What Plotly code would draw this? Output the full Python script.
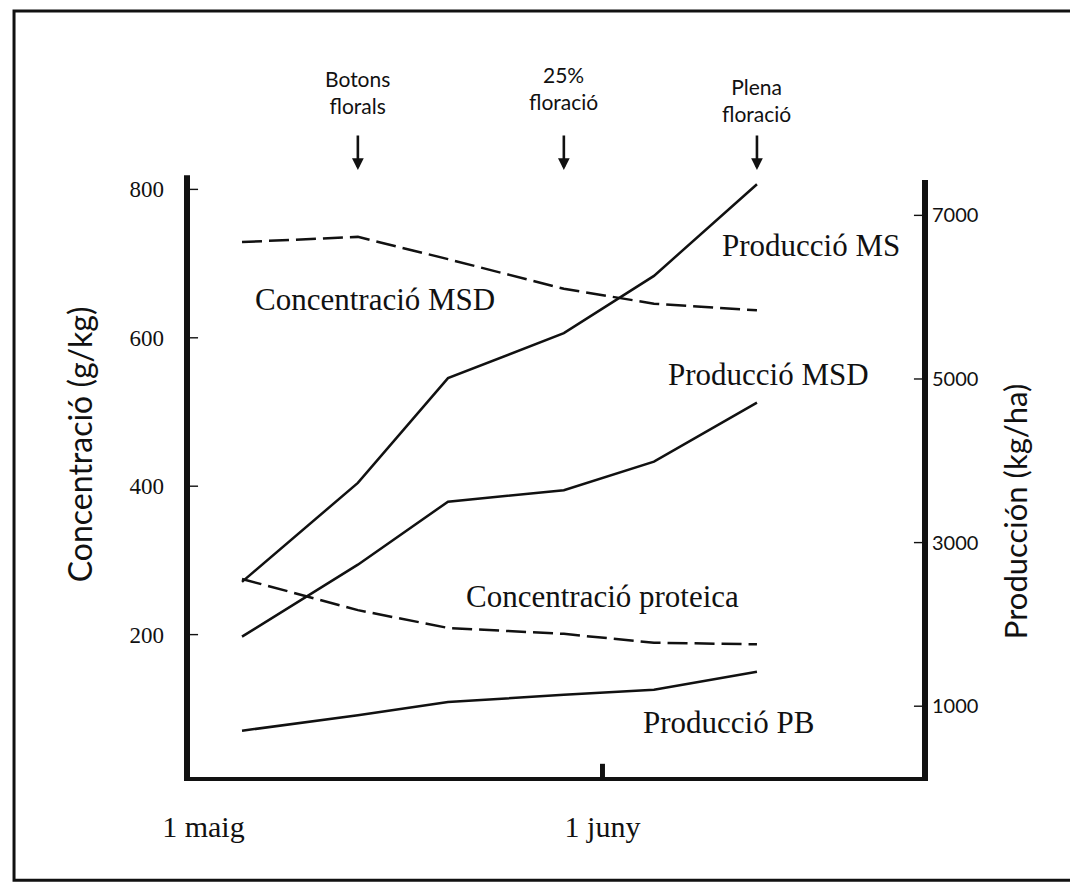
import plotly.graph_objects as go

# ---- data (x = day counted from 1 May; 32 = 1 June) ----
days = [4, 13, 20, 29, 36, 44]
conc_msd = [729, 736, 706, 666, 646, 637]          # g/kg (left axis)
conc_proteica = [275, 233, 209, 201, 189, 187]     # g/kg (left axis)
prod_ms = [2520, 3730, 5010, 5560, 6260, 7380]     # kg/ha (right axis)
prod_msd = [1850, 2730, 3500, 3640, 3990, 4710]    # kg/ha (right axis)
prod_pb = [700, 890, 1050, 1140, 1200, 1420]       # kg/ha (right axis)

x_tickvals = [1, 32]
x_ticktext = ["1 maig", "1 juny"]
yl_ticks = [200, 400, 600, 800]
yr_ticks = [1000, 3000, 5000, 7000]

stages = [(13, "Botons<br>florals", 1.142), (29, "25%<br>floració", 1.148), (44, "Plena<br>floració", 1.128)]

INK = "#111111"
SERIF = "Liberation Serif"
SANS = "Lato"

fig = go.Figure()
line_solid = dict(color=INK, width=2.5)
line_dash = dict(color=INK, width=2.5, dash="20px,7px")

fig.add_trace(go.Scatter(x=days, y=conc_msd, mode="lines", line=line_dash, yaxis="y", name="Concentració MSD"))
fig.add_trace(go.Scatter(x=days, y=conc_proteica, mode="lines", line=line_dash, yaxis="y", name="Concentració proteica"))
fig.add_trace(go.Scatter(x=days, y=prod_ms, mode="lines", line=line_solid, yaxis="y2", name="Producció MS"))
fig.add_trace(go.Scatter(x=days, y=prod_msd, mode="lines", line=line_solid, yaxis="y2", name="Producció MSD"))
fig.add_trace(go.Scatter(x=days, y=prod_pb, mode="lines", line=line_solid, yaxis="y2", name="Producció PB"))

annotations = []
# series labels
for txt, xd, yv in [("Concentració MSD", 14.33, 651), ("Producció MS", 48.2, 725),
                    ("Producció MSD", 44.9, 550), ("Concentració proteica", 32.04, 251),
                    ("Producció PB", 41.8, 82)]:
    annotations.append(dict(x=xd, y=yv, xref="x", yref="y", text=txt, showarrow=False,
                            xanchor="center", yanchor="middle",
                            font=dict(family=SERIF, size=31, color=INK)))
# phenological stages with arrows
for d, txt, yp in stages:
    annotations.append(dict(x=d, y=yp, xref="x", yref="paper", text=txt, showarrow=False,
                            xanchor="center", yanchor="middle",
                            font=dict(family=SANS, size=21, color=INK)))
    annotations.append(dict(x=d, y=1.0117, xref="x", yref="paper", text="", showarrow=True,
                            ax=0, ay=-36, arrowhead=2, arrowsize=0.9, arrowwidth=2.6, arrowcolor=INK))
# axis titles
annotations.append(dict(x=-0.150, y=0.555, xref="paper", yref="paper", text="Concentració (g/kg)",
                        textangle=-90, showarrow=False, xanchor="center", yanchor="middle",
                        font=dict(family=SANS, size=32, color=INK)))
annotations.append(dict(x=1.127, y=0.443, xref="paper", yref="paper", text="Producción (kg/ha)",
                        textangle=-90, showarrow=False, xanchor="center", yanchor="middle",
                        font=dict(family=SANS, size=31, color=INK)))

shapes = [
    # outer frame
    dict(type="rect", xref="paper", yref="paper", x0=-0.2404, x1=1.2077, y0=-0.172, y1=1.2767,
         line=dict(color=INK, width=3)),
    # thick vertical axis lines (left and right)
    dict(type="line", xref="paper", yref="paper", x0=-0.0041, x1=-0.0041, y0=-0.0067, y1=1.003,
         line=dict(color=INK, width=6)),
    dict(type="line", xref="paper", yref="paper", x0=1.0041, x1=1.0041, y0=-0.0067, y1=0.995,
         line=dict(color=INK, width=6)),
    # tick mark at 1 juny
    dict(type="line", xref="x", yref="paper", x0=32, x1=32, y0=0, y1=0.022,
         line=dict(color=INK, width=5)),
]
# small inside tick marks at the axis tick values
for v in yl_ticks:
    shapes.append(dict(type="line", xref="paper", yref="y", x0=0, x1=0.011, y0=v, y1=v,
                       line=dict(color=INK, width=1.4)))
for v in yr_ticks:
    shapes.append(dict(type="line", xref="paper", yref="y2", x0=0.989, x1=1, y0=v, y1=v,
                       line=dict(color=INK, width=1.4)))

fig.update_layout(
    width=1078, height=886,
    margin=dict(l=182, r=164, t=169, b=117),
    paper_bgcolor="white", plot_bgcolor="white",
    showlegend=False,
    annotations=annotations, shapes=shapes,
    xaxis=dict(range=[-0.04, 56.82], showgrid=False, zeroline=False, showline=True,
               linewidth=4, linecolor=INK, tickvals=x_tickvals, ticktext=x_ticktext,
               ticks="", ticklabelstandoff=20,
               tickfont=dict(family=SERIF, size=30, color=INK)),
    yaxis=dict(range=[8.1, 816.7], showgrid=False, zeroline=False, showline=False,
               tickvals=yl_ticks, ticks="", ticklabelstandoff=25,
               tickfont=dict(family=SERIF, size=23, color=INK)),
    yaxis2=dict(range=[134.5, 7469], overlaying="y", side="right", showgrid=False,
                zeroline=False, showline=False,
                tickvals=yr_ticks, ticks="", ticklabelstandoff=9,
                tickfont=dict(family=SANS, size=20, color=INK)),
)

fig.write_html("out.html")
